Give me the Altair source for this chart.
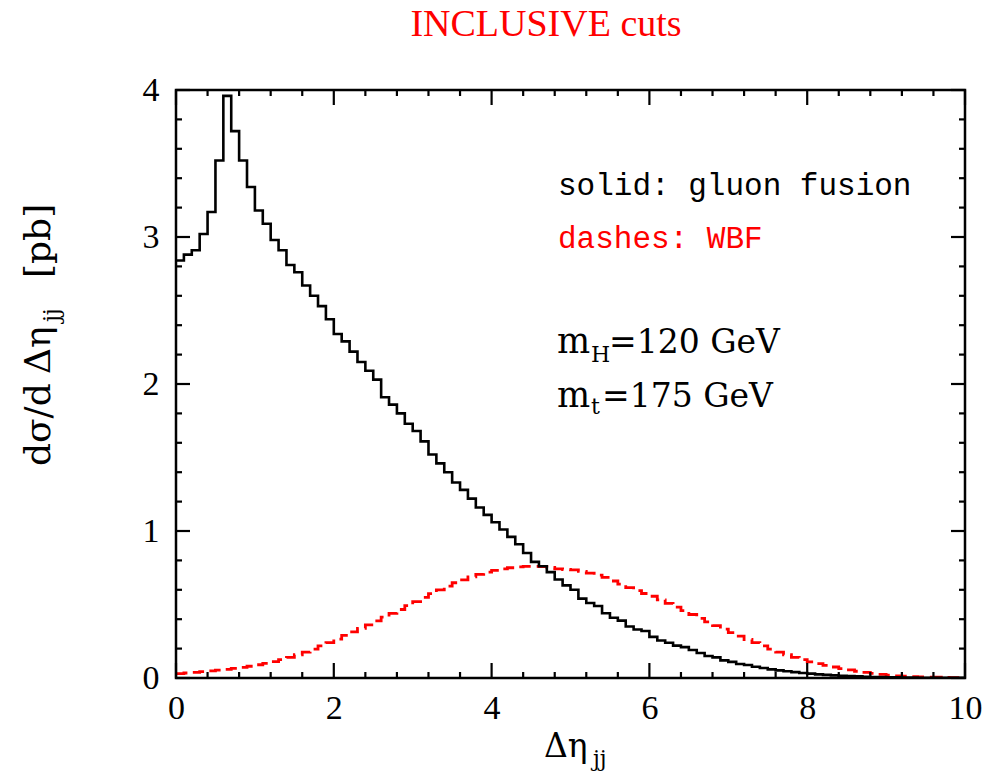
import altair as alt
import pandas as pd

# Histogram bins: 100 bins of width 0.1 in delta-eta_jj, from 0 to 10
bin_lo = [round(0.1 * i, 1) for i in range(100)]

# Gluon fusion, d sigma / d delta-eta_jj [pb]
gluon = [
    2.84, 2.88, 2.91, 3.02, 3.17, 3.52, 3.96, 3.72, 3.52, 3.34,
    3.18, 3.09, 2.98, 2.91, 2.81, 2.76, 2.67, 2.60, 2.53, 2.44,
    2.34, 2.29, 2.22, 2.15, 2.09, 2.03, 1.91, 1.86, 1.80, 1.73,
    1.68, 1.61, 1.52, 1.46, 1.40, 1.33, 1.28, 1.22, 1.16, 1.11,
    1.06, 1.01, 0.96, 0.91, 0.85, 0.79, 0.76, 0.72, 0.67, 0.63,
    0.60, 0.54, 0.51, 0.49, 0.44, 0.41, 0.39, 0.35, 0.33, 0.32,
    0.28, 0.255, 0.24, 0.22, 0.21, 0.19, 0.17, 0.15, 0.14, 0.12,
    0.11, 0.095, 0.088, 0.077, 0.068, 0.059, 0.052, 0.046, 0.040, 0.034,
    0.030, 0.025, 0.021, 0.018, 0.015, 0.013, 0.011, 0.009, 0.007, 0.006,
    0.005, 0.004, 0.003, 0.003, 0.002, 0.002, 0.001, 0.001, 0.001, 0.001,
]

# Weak boson fusion, d sigma / d delta-eta_jj [pb]
wbf = [
    0.030, 0.034, 0.038, 0.043, 0.048, 0.053, 0.059, 0.065, 0.072, 0.080,
    0.090, 0.100, 0.112, 0.125, 0.140, 0.158, 0.176, 0.196, 0.218, 0.240,
    0.265, 0.290, 0.314, 0.338, 0.362, 0.388, 0.414, 0.440, 0.466, 0.492,
    0.520, 0.548, 0.574, 0.600, 0.625, 0.648, 0.668, 0.688, 0.705, 0.720,
    0.732, 0.742, 0.750, 0.756, 0.760, 0.760, 0.757, 0.752, 0.742, 0.738,
    0.735, 0.725, 0.714, 0.700, 0.684, 0.660, 0.638, 0.615, 0.595, 0.575,
    0.556, 0.532, 0.508, 0.482, 0.458, 0.432, 0.406, 0.382, 0.356, 0.332,
    0.308, 0.285, 0.262, 0.240, 0.218, 0.196, 0.176, 0.158, 0.140, 0.125,
    0.110, 0.098, 0.086, 0.075, 0.064, 0.055, 0.046, 0.038, 0.031, 0.025,
    0.019, 0.015, 0.012, 0.009, 0.007, 0.006, 0.005, 0.004, 0.003, 0.002,
]

# Axis ticks (drawn inward on all four sides)
x_major = [0, 2, 4, 6, 8, 10]
x_minor = [0.4, 0.8, 1.2, 1.6, 2.4, 2.8, 3.2, 3.6, 4.4, 4.8, 5.2, 5.6,
           6.4, 6.8, 7.2, 7.6, 8.4, 8.8, 9.2, 9.6]
y_major = [0, 1, 2, 3, 4]
y_minor = [0.2, 0.4, 0.6, 0.8, 1.2, 1.4, 1.6, 1.8, 2.2, 2.4, 2.6, 2.8,
           3.2, 3.4, 3.6, 3.8]

W, H = 789, 588
RED = "#ff0000"
SERIF = "Liberation Serif"
LABEL_SERIF = "DejaVu Serif"
MONO = "Liberation Mono"


def step_frame(values):
    # step-after line: one point per bin edge, last value repeated at x=10
    xs = bin_lo + [10.0]
    ys = values + [values[-1]]
    return pd.DataFrame({"x": xs, "y": ys})


xs = alt.Scale(domain=[0, 10], nice=False, zero=False)
ys = alt.Scale(domain=[0, 4], nice=False, zero=False)
x_axis = alt.Axis(values=x_major, format="d", ticks=False, tickSize=0, domain=False,
                  grid=False, labelFont=SERIF, labelFontSize=34, labelColor="black",
                  labelPadding=13, labelFlush=False, title=None)
y_axis = alt.Axis(values=y_major, format="d", ticks=False, tickSize=0, domain=False,
                  grid=False, labelFont=SERIF, labelFontSize=34, labelColor="black",
                  labelPadding=17, title=None)


def X(field):
    return alt.X(field, type="quantitative", scale=xs, axis=x_axis)


def Y(field):
    return alt.Y(field, type="quantitative", scale=ys, axis=y_axis)


gluon_line = alt.Chart(step_frame(gluon)).mark_line(
    interpolate="step-after", color="black", strokeWidth=2.6, clip=True
).encode(x=X("x"), y=Y("y"))

wbf_line = alt.Chart(step_frame(wbf)).mark_line(
    interpolate="step-after", color=RED, strokeWidth=2.8, strokeDash=[12, 6], clip=True
).encode(x=X("x"), y=Y("y"))


def xticks(vals, length):
    df = pd.DataFrame({"x": vals})
    bottom = alt.Chart(df).mark_rule(color="black", strokeWidth=2.2).encode(
        x=X("x"), y=alt.value(H), y2=alt.value(H - length))
    top = alt.Chart(df).mark_rule(color="black", strokeWidth=2.2).encode(
        x=X("x"), y=alt.value(0), y2=alt.value(length))
    return [bottom, top]


def yticks(vals, length):
    df = pd.DataFrame({"y": vals})
    left = alt.Chart(df).mark_rule(color="black", strokeWidth=2.2).encode(
        y=Y("y"), x=alt.value(0), x2=alt.value(length))
    right = alt.Chart(df).mark_rule(color="black", strokeWidth=2.2).encode(
        y=Y("y"), x=alt.value(W), x2=alt.value(W - length))
    return [left, right]


frame = alt.Chart(alt.Data(values=[{}])).mark_rect(
    fill=None, stroke="black", strokeWidth=2.5
).encode(x=alt.value(0), x2=alt.value(W), y=alt.value(0), y2=alt.value(H))


def label(text, x, y, size, font, color="black", align="left", angle=0):
    return alt.Chart(alt.Data(values=[{}])).mark_text(
        text=text, font=font, fontSize=size, color=color, align=align,
        baseline="alphabetic", angle=angle
    ).encode(x=alt.value(x), y=alt.value(y))


texts = [
    # title
    label("INCLUSIVE cuts", 370, -54, 38, SERIF, color=RED, align="center"),
    # notes inside the frame
    label("solid: gluon fusion", 382, 105, 31, MONO),
    label("dashes: WBF", 382, 158, 31, MONO, color=RED),
    label("m", 381, 263, 35, LABEL_SERIF),
    label("H", 415, 272, 22, LABEL_SERIF),
    label("=120 GeV", 433, 263, 33, LABEL_SERIF),
    label("m", 381, 317, 35, LABEL_SERIF),
    label("t", 415, 324, 22, LABEL_SERIF),
    label("=175 GeV", 426, 317, 33, LABEL_SERIF),
    # x axis title
    label("\u0394\u03b7", 368, 667, 33, LABEL_SERIF),
    label("jj", 417, 676, 22, LABEL_SERIF),
    # y axis title (rotated)
    label("d\u03c3/d", -126, 376, 36, LABEL_SERIF, angle=270),
    label("\u0394\u03b7", -126, 284, 36, LABEL_SERIF, angle=270),
    label("jj", -117, 232, 22, LABEL_SERIF, angle=270),
    label("[pb]", -126, 188, 36, LABEL_SERIF, angle=270),
]

layers = [wbf_line, gluon_line, frame]
layers += xticks(x_major, 15) + xticks(x_minor, 6)
layers += yticks(y_major, 14) + yticks(y_minor, 6)
layers += texts

chart = alt.layer(*layers).properties(
    width=W, height=H,
    autosize=alt.AutoSizeParams(type="none"),
    padding={"left": 176, "top": 90, "right": 37, "bottom": 105},
).configure_view(stroke=None).configure(background="white")

chart.save("out.html", embed_options={"renderer": "svg", "actions": False})
